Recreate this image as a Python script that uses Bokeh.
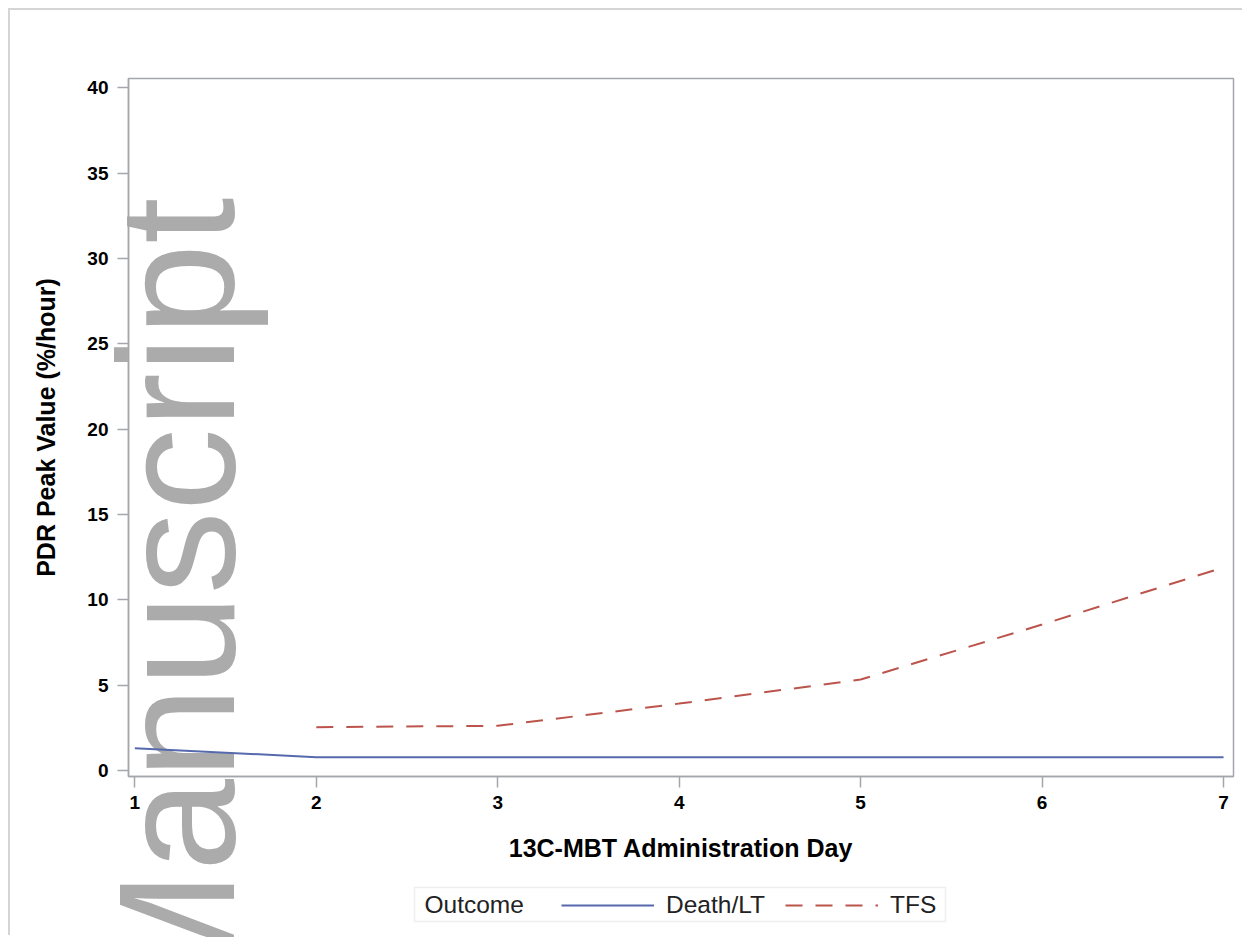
import math

from bokeh.embed import file_html
from bokeh.models import BoxAnnotation, FixedTicker, Label, Legend, LegendItem, Range1d
from bokeh.plotting import figure
from bokeh.resources import INLINE

# Mean PDR peak value per administration day, by outcome group
days = [1, 2, 3, 4, 5, 6, 7]
death_lt = [1.31, 0.78, 0.78, 0.78, 0.78, 0.78, 0.78]
tfs_days = [2, 3, 4, 5, 6, 7]
tfs = [2.54, 2.62, 3.92, 5.33, 8.55, 11.9]

x_ticks = [1, 2, 3, 4, 5, 6, 7]
y_ticks = [0, 5, 10, 15, 20, 25, 30, 35, 40]

AXIS_GREY = "#a3a7ab"
FONT = "Liberation Sans"
LEGEND_FONT_SIZE = "24.5px"
PAGE_W, PAGE_H = 1244, 937

death_style = dict(line_color="#5669ad", line_width=2)
tfs_style = dict(line_color="#bb554c", line_width=2, line_dash="17 13")

# ---- page layer (pixel coordinates, y up): watermark and legend, under the chart ----
page = figure(
    width=PAGE_W, height=PAGE_H, min_border=0,
    x_range=Range1d(0, PAGE_W), y_range=Range1d(0, PAGE_H),
    x_axis_location=None, y_axis_location=None,
    output_backend="svg", toolbar_location=None,
)
page.grid.visible = False
page.outline_line_color = None
page.background_fill_color = "white"
page.border_fill_color = "white"
page.styles = {"position": "absolute", "left": "0px", "top": "0px", "z-index": "0"}

page.add_layout(Label(
    x=176.4, y=PAGE_H - 1009, text="Manuscript", angle=math.pi / 2,
    text_font=FONT, text_font_size="166px", text_color="#ababab",
    text_align="left", text_baseline="alphabetic",
))

# legend frame with its "Outcome" heading
page.add_layout(BoxAnnotation(
    left=414, right=945, top=PAGE_H - 887, bottom=PAGE_H - 921,
    fill_color="white", fill_alpha=1, line_color="#c8c8c8", line_width=1.5,
))
page.add_layout(Label(
    x=424, y=PAGE_H - 904, text="Outcome",
    text_font=FONT, text_font_size=LEGEND_FONT_SIZE, text_color="#222222",
    text_align="left", text_baseline="middle",
))
# hidden copies of the two series, used only as legend keys on this layer
key_death = page.line(days, death_lt, visible=False, **death_style)
key_tfs = page.line(tfs_days, tfs, visible=False, **tfs_style)
page.add_layout(Legend(
    items=[
        LegendItem(label="Death/LT", renderers=[key_death]),
        LegendItem(label="TFS", renderers=[key_tfs]),
    ],
    orientation="horizontal",
    location=(561, 18),
    label_text_font=FONT,
    label_text_font_size=LEGEND_FONT_SIZE,
    label_text_color="#222222",
    label_standoff=12,
    glyph_width=93,
    glyph_height=26,
    label_height=26,
    spacing=20,
    padding=4,
    margin=0,
    border_line_color=None,
    background_fill_alpha=0,
    inactive_fill_alpha=0,
))

# ---- chart ----
p = figure(
    width=1234,
    height=927,
    min_border_left=118,
    min_border_right=11,
    min_border_top=68,
    min_border_bottom=161,
    x_range=Range1d(0.965, 7.055),
    y_range=Range1d(-0.35, 40.54),
    output_backend="svg",
    toolbar_location=None,
)
p.margin = (8, 0, 0, 8)
p.styles = {
    "position": "relative", "z-index": "1",
    "border-top": "2px solid #d5d5d5", "border-left": "2px solid #d5d5d5",
}
p.background_fill_alpha = 0
p.border_fill_alpha = 0
p.outline_line_color = AXIS_GREY
p.outline_line_width = 1.5
p.xgrid.visible = False
p.ygrid.visible = False

p.line(days, death_lt, **death_style)
p.line(tfs_days, tfs, **tfs_style)

for ax in (p.xaxis[0], p.yaxis[0]):
    ax.axis_line_color = AXIS_GREY
    ax.axis_line_width = 1.5
    ax.major_tick_line_color = AXIS_GREY
    ax.major_tick_line_width = 1.5
    ax.major_tick_out = 11
    ax.major_tick_in = 0
    ax.minor_tick_line_color = None
    ax.major_label_text_font = FONT
    ax.major_label_text_font_style = "bold"
    ax.major_label_text_font_size = "19px"
    ax.major_label_text_color = "black"
    ax.axis_label_text_font = FONT
    ax.axis_label_text_font_style = "bold"
    ax.axis_label_text_font_size = "25px"
    ax.axis_label_text_color = "black"

p.xaxis.ticker = FixedTicker(ticks=x_ticks)
p.yaxis.ticker = FixedTicker(ticks=y_ticks)
p.xaxis.axis_label = "13C-MBT Administration Day"
p.yaxis.axis_label = "PDR Peak Value (%/hour)"
p.xaxis.major_label_standoff = 8
p.yaxis.major_label_standoff = 9
p.xaxis.axis_label_standoff = 22
p.yaxis.axis_label_standoff = 24

open("out.html", "w").write(file_html([page, p], INLINE))
